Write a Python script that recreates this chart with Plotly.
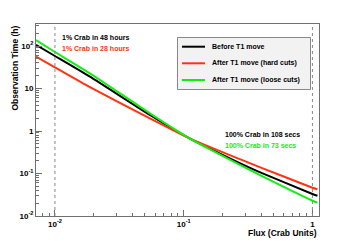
import plotly.graph_objects as go

# Data (Flux in Crab units, observation time in hours)
flux = [0.00713, 0.01, 0.0187, 0.0546, 0.111, 0.228, 0.389, 1.0, 1.094]
t_before = [106, 58.2, 19, 2.38, 0.673, 0.228, 0.108, 0.033, 0.030]
t_hard = [56, 31.5, 10.8, 1.99, 0.673, 0.271, 0.1416, 0.0463, 0.0425]
t_loose = [138, 72.3, 22.8, 2.61, 0.673, 0.213, 0.0923, 0.0229, 0.0206]

series_names = ["Before T1 move", "After T1 move (hard cuts)", "After T1 move (loose cuts)"]
series_colors = ["#000000", "#ff3311", "#11ee11"]
series_values = [t_before, t_hard, t_loose]

x_tickvals = [0.01, 0.1, 1]
x_ticktext = ["10<sup>-2</sup>", "10<sup>-1</sup>", "1"]
y_tickvals = [0.01, 0.1, 1, 10, 100]
y_ticktext = ["10<sup>-2</sup>", "10<sup>-1</sup>", "1", "10", "10<sup>2</sup>"]

ref_lines = [0.01, 1]

FONT = "Liberation Sans, Arial, sans-serif"

# plot area in page pixels (page body has an 8px margin)
PL, PR, PT, PB = 36, 319, 24, 216
PW, PH = PR - PL, PB - PT


def px(x):
    return (x - PL) / PW


def py(y):
    return (PB - y) / PH


fig = go.Figure()
for name, color, vals in zip(series_names, series_colors, series_values):
    fig.add_trace(go.Scatter(x=flux, y=vals, mode="lines", name=name, showlegend=False,
                             line=dict(color=color, width=2, shape="spline", smoothing=0.5)))

for xv in ref_lines:
    fig.add_shape(type="line", xref="x", yref="paper", x0=xv, x1=xv, y0=0, y1=1,
                  line=dict(color="#888888", width=1, dash="dot"))


def minor_vals(lo, hi):
    out = []
    for e in range(lo, hi + 1):
        for m in range(2, 10):
            out.append(m * 10 ** e)
    return out


axis_common = dict(
    type="log", showgrid=False, zeroline=False, showline=True, mirror=True,
    linecolor="#707070", linewidth=1, ticks="inside", ticklen=6, tickcolor="#707070",
    tickfont=dict(family=FONT, size=8, color="#000000", weight="bold"),
)

fig.update_xaxes(**axis_common, range=[-2.147, 0.051], tickmode="array",
                 tickvals=x_tickvals, ticktext=x_ticktext,
                 minor=dict(tickvals=minor_vals(-3, 0), ticks="inside", ticklen=3,
                            tickcolor="#707070"))
fig.update_yaxes(**axis_common, range=[-2, 2.518], tickmode="array",
                 tickvals=y_tickvals, ticktext=y_ticktext,
                 minor=dict(tickvals=minor_vals(-2, 2), ticks="inside", ticklen=3,
                            tickcolor="#707070"))

ann_font = dict(family=FONT, size=7, weight="bold")
annotations = [
    dict(text="1% Crab in 48 hours", x=60, y=38, color="#000000"),
    dict(text="1% Crab in 28 hours", x=60, y=48, color="#ff3311"),
    dict(text="100% Crab in 108 secs", x=223, y=134, color="#000000"),
    dict(text="100% Crab in 73 secs", x=223, y=145, color="#11ee11"),
]
for a in annotations:
    fig.add_annotation(text=a["text"], xref="paper", yref="paper",
                       x=px(a["x"]), y=py(a["y"]),
                       xanchor="left", yanchor="middle", showarrow=False,
                       font=dict(**ann_font, color=a["color"]))

# Legend box (drawn like the ROOT TLegend)
fig.add_shape(type="rect", xref="paper", yref="paper",
              x0=px(177.5), x1=px(310.5), y0=py(89.5), y1=py(37.5),
              fillcolor="#f2f2f2", line=dict(color="#888888", width=1), layer="above")
legend_rows = [46.7, 63.3, 80.0]
for name, color, yrow in zip(series_names, series_colors, legend_rows):
    fig.add_shape(type="line", xref="paper", yref="paper",
                  x0=px(182), x1=px(205), y0=py(yrow), y1=py(yrow),
                  line=dict(color=color, width=2), layer="above")
    fig.add_annotation(text=name, xref="paper", yref="paper", x=px(210), y=py(yrow),
                       xanchor="left", yanchor="middle", showarrow=False,
                       font=dict(family=FONT, size=7, weight="bold", color="#000000"))

fig.add_annotation(text="Flux (Crab Units)", xref="paper", yref="paper",
                   x=1, y=py(226), xanchor="right", yanchor="top", showarrow=False,
                   font=dict(family=FONT, size=8.5, weight="bold", color="#000000"))
fig.add_annotation(text="Observation Time (h)", xref="paper", yref="paper",
                   x=px(14), y=1, xanchor="center", yanchor="top", textangle=-90,
                   showarrow=False,
                   font=dict(family=FONT, size=8.5, weight="bold", color="#000000"))

fig.update_layout(
    width=347, height=233,
    margin=dict(l=PL - 8, r=355 - PR, t=PT - 8, b=249 - PB - 8),
    paper_bgcolor="#ffffff", plot_bgcolor="#ffffff",
    showlegend=False,
)

fig.write_html("out.html")
